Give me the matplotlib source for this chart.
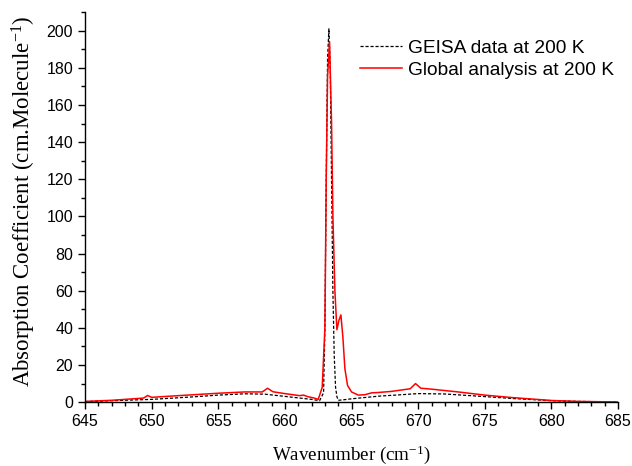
import matplotlib
matplotlib.use("Agg")
import matplotlib.pyplot as plt
from matplotlib.ticker import MultipleLocator

plt.rcParams["mathtext.fontset"] = "custom"
plt.rcParams["mathtext.rm"] = "Liberation Serif"
plt.rcParams["mathtext.it"] = "Liberation Serif:italic"
plt.rcParams["mathtext.default"] = "rm"

# GEISA data at 200 K
geisa_x = [645, 647, 650, 653, 655, 657, 658.5, 659.5, 661, 662, 662.6, 662.9,
           663.0, 663.1, 663.2, 663.3, 663.4, 663.5, 663.6, 663.7, 663.8, 663.9,
           664.0, 664.3, 665, 667, 670, 672, 675, 677, 680, 682, 685]
geisa_y = [0.3, 0.8, 1.5, 2.8, 3.8, 4.5, 4.3, 3.5, 2.3, 1.5, 0.8, 5,
           40, 120, 185, 201, 180, 120, 60, 25, 8, 3,
           1.0, 1.2, 1.8, 3.2, 4.6, 4.4, 3.0, 2.0, 0.8, 0.4, 0.1]

# Global analysis at 200 K
glob_x = [645, 647, 649.4, 649.7, 650.0, 652, 655, 657, 658.3, 658.7, 659.1, 660,
          661.1, 661.4, 661.7, 662.2, 662.5, 662.8, 663.0, 663.1, 663.2, 663.35,
          663.5, 663.6, 663.75, 663.9, 664.05, 664.2, 664.35, 664.5, 664.7, 665.0,
          665.5, 666, 666.5, 667, 668, 669.4, 669.8, 670.2, 671, 673, 675, 677,
          680, 682, 685]
glob_y = [0.4, 1.0, 2.2, 3.6, 2.6, 3.5, 4.8, 5.5, 5.5, 7.5, 5.6, 4.6,
          3.5, 3.8, 3.0, 2.2, 1.5, 8, 40, 120, 175, 194,
          150, 100, 60, 39, 44, 47, 35, 18, 9, 5.5,
          3.8, 4.0, 5.0, 5.2, 5.8, 7.2, 10.0, 7.5, 7.0, 5.5, 3.8, 2.5,
          0.9, 0.4, 0.1]

xticks = [645, 650, 655, 660, 665, 670, 675, 680, 685]
yticks = [0, 20, 40, 60, 80, 100, 120, 140, 160, 180, 200]

fig = plt.figure(figsize=(6.32, 4.66), dpi=100)
ax = fig.add_axes([0.1345, 0.137, 0.8435, 0.837])

ax.plot(geisa_x, geisa_y, color="black", linestyle=(0, (2.5, 1.5)), linewidth=0.9,
        label="GEISA data at 200 K")
ax.plot(glob_x, glob_y, color="#ff0000", linewidth=1.1,
        label="Global analysis at 200 K")

ax.set_xlim(645, 685)
ax.set_ylim(0, 210)
ax.set_xticks(xticks)
ax.set_yticks(yticks)
ax.xaxis.set_minor_locator(MultipleLocator(1))
ax.yaxis.set_minor_locator(MultipleLocator(10))

for s in ["top", "right"]:
    ax.spines[s].set_visible(False)
for s in ["left", "bottom"]:
    ax.spines[s].set_linewidth(1.0)

ax.tick_params(axis="both", which="major", direction="out", length=5, width=1.0,
               labelsize=11.5)
ax.tick_params(axis="both", which="minor", direction="out", length=3, width=1.0)
for lab in ax.get_xticklabels() + ax.get_yticklabels():
    lab.set_fontfamily("Liberation Sans")

ax.set_xlabel("Wavenumber (cm$^{-1}$)", fontfamily="Liberation Serif", fontsize=13.7)
ax.set_ylabel("Absorption Coefficient (cm.Molecule$^{-1}$)",
              fontfamily="Liberation Serif", fontsize=16.5)
ax.xaxis.set_label_coords(0.5, -0.105)
ax.yaxis.set_label_coords(-0.088, 0.515)

leg = ax.legend(loc="upper right", bbox_to_anchor=(1.024, 0.975), frameon=False,
                prop={"family": "Liberation Sans", "size": 13.8},
                handlelength=2.2, handletextpad=0.3, labelspacing=0.25)

fig.savefig("out.png", dpi=100)
